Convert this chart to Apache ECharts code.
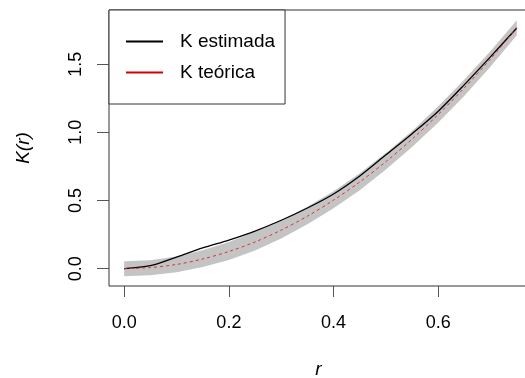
<!DOCTYPE html>
<html>
<head>
<meta charset="utf-8">
<script src="https://cdn.jsdelivr.net/npm/echarts@6/dist/echarts.min.js"></script>
<style>
  html, body { margin: 0; padding: 0; background: #fff; }
  #chart { width: 525px; height: 378px; }
</style>
</head>
<body>
<div id="chart"></div>
<script>
// valores
var rVals  = [0, 0.05, 0.10, 0.15, 0.20, 0.25, 0.30, 0.35, 0.40, 0.45, 0.50, 0.55, 0.60, 0.65, 0.70, 0.75];
var kEst   = [0, 0.022, 0.085, 0.152, 0.210, 0.276, 0.355, 0.445, 0.548, 0.680, 0.835, 0.990, 1.155, 1.350, 1.555, 1.765];
var kTeo   = [0, 0.008, 0.031, 0.071, 0.126, 0.196, 0.283, 0.385, 0.503, 0.636, 0.785, 0.950, 1.131, 1.327, 1.539, 1.767];
var envLo  = [-0.055, -0.048, -0.027, 0.012, 0.063, 0.133, 0.222, 0.325, 0.443, 0.576, 0.727, 0.892, 1.072, 1.268, 1.482, 1.712];
var envHi  = [0.055, 0.062, 0.090, 0.135, 0.195, 0.270, 0.355, 0.455, 0.568, 0.700, 0.848, 1.010, 1.192, 1.388, 1.597, 1.822];
var xTicks = [0, 0.2, 0.4, 0.6];
var yTicks = [0, 0.5, 1.0, 1.5];
var names  = ['K estimada', 'K teórica'];

function pairs(ys){
	var out = [];
	for(var i=0; i<rVals.length; i++){
		out.push([rVals[i], ys[i]]);
	}
	return out;
}
var envData = [];
for(var i=0; i<rVals.length; i++){
	envData.push([rVals[i], envLo[i], envHi[i]]);
}

// banda gris: un poligono con el borde superior y el inferior
function renderEnv(params, api){
	if(params.dataIndex !== 0) return null;
	var pts = [];
	for(var i=0; i<envData.length; i++){
		pts.push(api.coord([envData[i][0], envData[i][2]]));
	}
	for(var j=envData.length-1; j>=0; j--){
		pts.push(api.coord([envData[j][0], envData[j][1]]));
	}
	return {
		type: 'polygon',
		shape: { points: pts },
		style: { fill: '#c4c4c4', stroke: null }
	};
}

var font = 'Liberation Sans, Arial, sans-serif';
var chart = echarts.init(document.getElementById('chart'));
var option = {
	animation: false,
	textStyle: { fontFamily: font },
	grid: {
		left: 109, top: 10, right: -3, bottom: 92,
		outerBoundsMode: 'none',
		show: true, borderColor: '#333', borderWidth: 1,
		backgroundColor: 'transparent'
	},
	legend: {
		left: 109, top: 10,
		orient: 'vertical',
		selectedMode: false,
		backgroundColor: '#fff',
		borderColor: '#333', borderWidth: 1, borderRadius: 0,
		padding: [22, 10, 22, 17],
		itemGap: 12,
		itemWidth: 37, itemHeight: 2,
		textStyle: { fontSize: 19, color: '#000', fontFamily: font, padding: [0, 0, 0, 12] },
		data: [
			{ name: names[0], icon: 'rect' },
			{ name: names[1], icon: 'rect' }
		]
	},
	xAxis: {
		type: 'value',
		min: -0.029, max: 0.7714,
		name: 'r', nameLocation: 'middle', nameGap: 74,
		nameTextStyle: { fontSize: 19, fontStyle: 'italic', color: '#000' },
		axisLine: { show: false, onZero: false },
		splitLine: { show: false },
		axisTick: { show: true, length: 11, customValues: xTicks, lineStyle: { color: '#555' } },
		axisLabel: {
			customValues: xTicks, fontSize: 18, color: '#000', margin: 28,
			formatter: function(v){ return v.toFixed(1); }
		}
	},
	yAxis: {
		type: 'value',
		min: -0.127, max: 1.897,
		name: 'K(r)', nameLocation: 'middle', nameGap: 76,
		nameTextStyle: { fontSize: 19, fontStyle: 'italic', color: '#000' },
		axisLine: { show: false, onZero: false },
		splitLine: { show: false },
		axisTick: { show: true, length: 12, customValues: yTicks, lineStyle: { color: '#555' } },
		axisLabel: {
			customValues: yTicks, fontSize: 18, color: '#000', margin: 24, rotate: 90,
			formatter: function(v){ return v.toFixed(1); }
		}
	},
	series: [
		{
			name: 'envolvente', type: 'custom', data: envData,
			renderItem: renderEnv, silent: true, clip: true,
			encode: { x: 0, y: [1, 2] }
		},
		{
			name: names[0], type: 'line', data: pairs(kEst), symbol: 'none',
			smooth: 0.3, color: '#000',
			lineStyle: { color: '#000', width: 1.3 }
		},
		{
			name: names[1], type: 'line', data: pairs(kTeo), symbol: 'none',
			smooth: 0.3, color: '#d40000',
			lineStyle: { color: '#e03030', width: 1, type: [3, 3] }
		}
	]
};
chart.setOption(option);
</script>
</body>
</html>
